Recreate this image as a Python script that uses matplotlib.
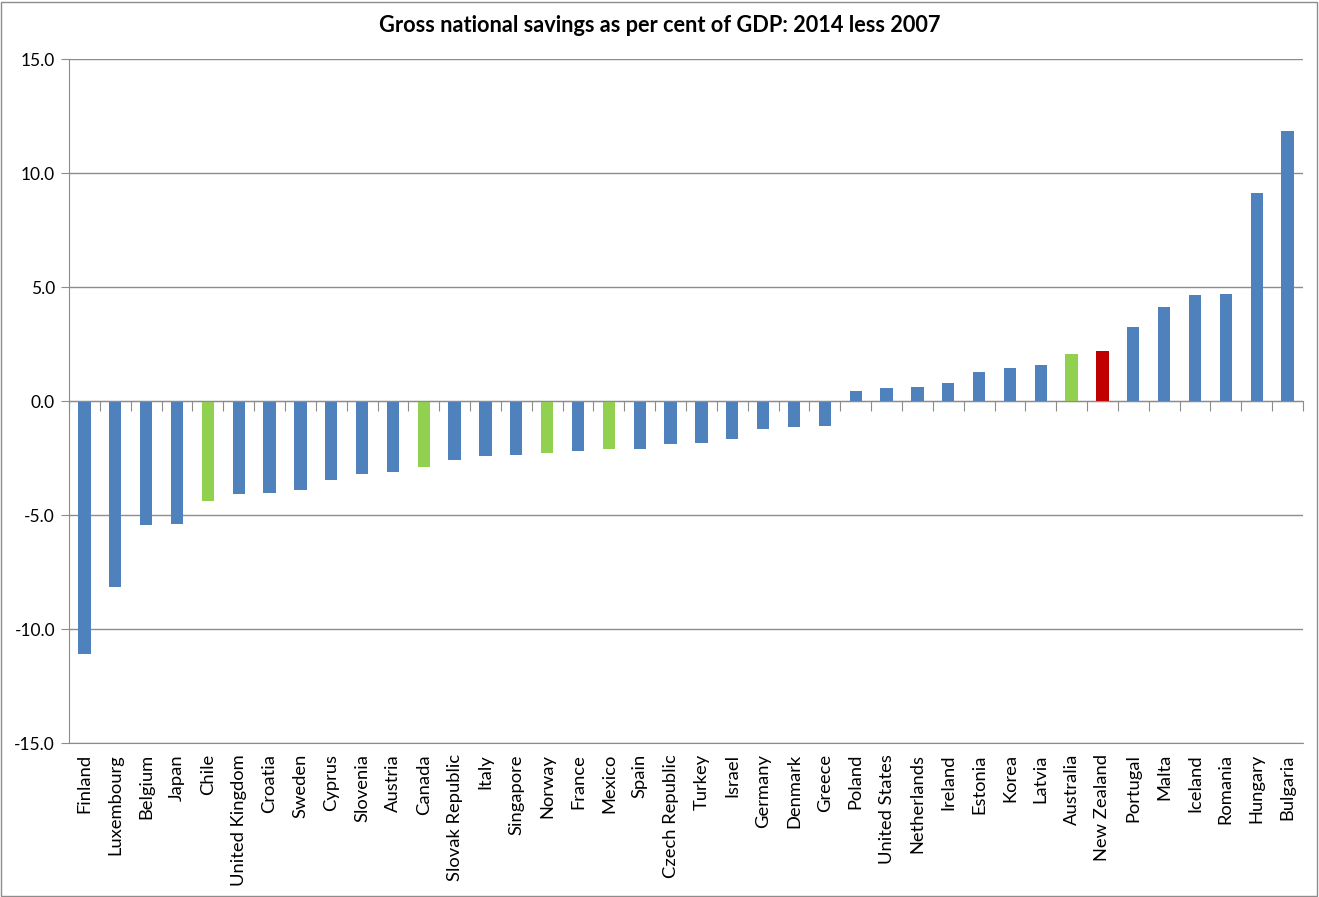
import matplotlib
matplotlib.use("Agg")
import matplotlib.pyplot as plt
from matplotlib.patches import Rectangle

countries = ["Finland", "Luxembourg", "Belgium", "Japan", "Chile", "United Kingdom", "Croatia",
             "Sweden", "Cyprus", "Slovenia", "Austria", "Canada", "Slovak Republic", "Italy",
             "Singapore", "Norway", "France", "Mexico", "Spain", "Czech Republic", "Turkey",
             "Israel", "Germany", "Denmark", "Greece", "Poland", "United States", "Netherlands",
             "Ireland", "Estonia", "Korea", "Latvia", "Australia", "New Zealand", "Portugal",
             "Malta", "Iceland", "Romania", "Hungary", "Bulgaria"]
values = [-11.1, -8.16, -5.44, -5.4, -4.37, -4.1, -4.02, -3.9, -3.46, -3.19, -3.1, -2.88, -2.6,
          -2.42, -2.37, -2.3, -2.2, -2.12, -2.1, -1.9, -1.85, -1.67, -1.23, -1.14, -1.1,
          0.44, 0.57, 0.61, 0.79, 1.27, 1.45, 1.58, 2.06, 2.19, 3.25, 4.12, 4.65, 4.69, 9.12, 11.84]
green = {"Chile", "Canada", "Norway", "Mexico", "Australia"}
red = {"New Zealand"}
yticks = [-15.0, -10.0, -5.0, 0.0, 5.0, 10.0, 15.0]
title = "Gross national savings as per cent of GDP: 2014 less 2007"

plt.rcParams['font.family'] = ['Lato', 'DejaVu Sans']

colors = ["#92D050" if c in green else "#C00000" if c in red else "#4F81BD" for c in countries]

fig = plt.figure(figsize=(13.19, 8.97), dpi=100)
ax = fig.add_axes([69/1319, 1 - 743/897, (1303-69)/1319, (743-59)/897])
x = list(range(len(countries)))
ax.bar(x, values, width=0.4, color=colors, zorder=3)

ax.set_xlim(-0.5, len(countries) - 0.5)
ax.set_ylim(-15, 15)
ax.set_yticks(yticks)
ax.set_yticklabels([f"{v:.1f}" for v in yticks], fontsize=12.5)
ax.yaxis.grid(True, color="#8c8c8c", lw=1, zorder=0)
ax.tick_params(axis='y', length=6, color="#8c8c8c", pad=4)

for s in ["top", "right"]:
    ax.spines[s].set_visible(False)
ax.spines["left"].set_color("#8c8c8c")
ax.spines["bottom"].set_position(("data", 0))
ax.spines["bottom"].set_color("#8c8c8c")
ax.spines["bottom"].set_zorder(4)
ax.set_xticks([i - 0.5 for i in range(len(countries) + 1)])
ax.set_xticklabels([])
ax.tick_params(axis='x', length=7, color="#8c8c8c", direction='out')

sec = ax.secondary_xaxis('bottom')
sec.set_xticks(x)
sec.set_xticklabels(countries, rotation=90, fontsize=13.2)
sec.tick_params(length=0, pad=8)
sec.spines["bottom"].set_color("#8c8c8c")

fig.text(0.5, 1 - 25/897, title, ha="center", va="center", fontsize=15.7, fontweight="bold")
fig.patches.append(Rectangle((1/1319, 1/897), 1 - 3/1319, 1 - 3/897, transform=fig.transFigure,
                             fill=False, edgecolor="#8c8c8c", lw=1))
fig.savefig("out.png", dpi=100)
